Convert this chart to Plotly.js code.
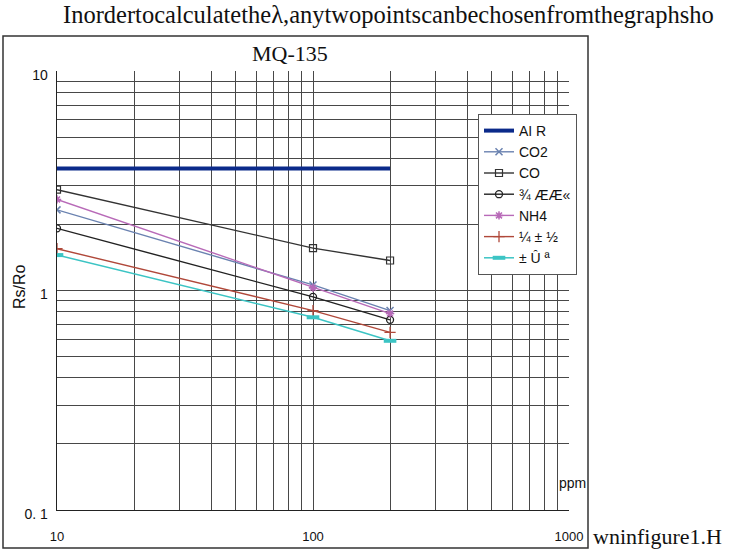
<!DOCTYPE html>
<html>
<head>
<meta charset="utf-8">
<script src="https://cdn.plot.ly/plotly-3.0.1.min.js"></script>
<style>
html,body{margin:0;padding:0;background:#fff;overflow:hidden;}
#chart{width:741px;height:550px;}
</style>
</head>
<body>
<div id="chart"></div>
<script>
// ---- data ----
const ppm = [10, 100, 200];
const airPpm = [10, 200];
const airVals = [3.6, 3.6];
const co2Vals = [2.33, 1.06, 0.81];
const coVals = [2.88, 1.56, 1.37];
const alcVals = [1.92, 0.935, 0.735];
const nh4Vals = [2.60, 1.03, 0.785];
const tolVals = [1.55, 0.81, 0.645];
const aceVals = [1.45, 0.755, 0.59];
const seriesNames = ["AI R", "CO2", "CO", "¾ ÆÆ«", "NH4", "¼ ± ½", "± Û ª"];
const xTickVals = [10, 100, 1000];
const xTickText = ["10", "100", "1000"];
const yTickVals = [0.1, 1, 10];
const yTickText = ["0. 1", "1", "10"];
const titleText = "MQ-135";
const yTitle = "Rs/Ro";
const xUnit = "ppm";
const topText = "Inordertocalculatethe\u03bb,anytwopointscanbechosenfromthegraphsho";
const bottomText = "wninfigure1.H";

// grid positions (1..9 per decade)
const mult = [1,2,3,4,5,6,7,8,9];
function gridVals(decades){
  const v=[];
  decades.forEach(d=>mult.forEach(m=>v.push(+(m*d).toPrecision(3))));
  return v;
}
const xGrid = gridVals([10,100]).concat([1000]);
const yGrid = gridVals([0.1,1]).concat([10]);
function labelFor(vals, tv, tt){
  return vals.map(v=>{const i=tv.findIndex(t=>Math.abs(t-v)<1e-9);return i>=0?tt[i]:"";});
}

const sans = "Liberation Sans, Arial, sans-serif";
const serif = "Liberation Serif, Times New Roman, serif";

const traces = [
  {x: airPpm, y: airVals, name: seriesNames[0], mode: "lines",
   line: {color: "#0b2a8a", width: 4}},
  {x: ppm, y: co2Vals, name: seriesNames[1], mode: "lines+markers",
   line: {color: "#6a82b0", width: 1.4},
   marker: {symbol: "x-thin-open", size: 7, line: {color: "#3a55c8", width: 1.5}}},
  {x: ppm, y: coVals, name: seriesNames[2], mode: "lines+markers",
   line: {color: "#333333", width: 1.4},
   marker: {symbol: "square-open", size: 7, color: "#333", line: {color: "#333", width: 1.2}}},
  {x: ppm, y: alcVals, name: seriesNames[3], mode: "lines+markers",
   line: {color: "#222222", width: 1.4},
   marker: {symbol: "circle-open", size: 7, color: "#222", line: {color: "#222", width: 1.3}}},
  {x: ppm, y: nh4Vals, name: seriesNames[4], mode: "lines+markers",
   line: {color: "#b86ab8", width: 1.4},
   marker: {symbol: "asterisk-open", size: 7, line: {color: "#4a2a5a", width: 1.5}}},
  {x: ppm, y: tolVals, name: seriesNames[5], mode: "lines+markers",
   line: {color: "#b0483a", width: 1.4},
   marker: {symbol: "cross-thin-open", size: 8, line: {color: "#222", width: 1.3}}},
  {x: ppm, y: aceVals, name: seriesNames[6], mode: "lines+markers",
   line: {color: "#3cc4c4", width: 1.5},
   marker: {symbol: "line-ew-open", size: 9, line: {color: "#111", width: 4}}}
];

// plot area in pixels: x 57..569, y 71..510
const L=57, R=741-569, T=71, B=550-510;
const pw=741-L-R, ph=550-T-B;
function px(xp){return (xp-L)/pw;}
function py(yp){return (550-B-yp)/ph;}

const layout = {
  width: 741, height: 550,
  margin: {l: L, r: R, t: T, b: B, pad: 0},
  paper_bgcolor: "#fff", plot_bgcolor: "#fff",
  showlegend: true,
  legend: {x: px(478), y: py(114), xanchor: "left", yanchor: "top",
    bgcolor: "#fff", bordercolor: "#555", borderwidth: 1,
    font: {family: sans, size: 14, color: "#111"},
    itemwidth: 30, tracegroupgap: 0},
  xaxis: {type: "log", range: [1, 3], tickmode: "array",
    tickvals: xGrid, ticktext: labelFor(xGrid, xTickVals, xTickText),
    showgrid: true, gridcolor: "#484848", gridwidth: 1,
    showline: true, linecolor: "#222", linewidth: 1.3, mirror: false,
    ticks: "", ticklabelstandoff: 14,
    tickfont: {family: sans, size: 13, color: "#111"}, zeroline: false},
  yaxis: {type: "log", range: [-1, 1], tickmode: "array",
    tickvals: yGrid, ticktext: labelFor(yGrid, yTickVals, yTickText),
    showgrid: true, gridcolor: "#484848", gridwidth: 1,
    showline: true, linecolor: "#222", linewidth: 1.3,
    ticks: "", ticklabelstandoff: 5, ticklabelshift: 4,
    tickfont: {family: sans, size: 14, color: "#111"}, zeroline: false},
  shapes: [
    {type: "rect", xref: "paper", yref: "paper",
     x0: px(3), x1: px(588), y0: py(548), y1: py(36),
     line: {color: "#333", width: 1.5}, fillcolor: "rgba(0,0,0,0)", layer: "below"}
  ],
  annotations: [
    {text: titleText, xref: "paper", yref: "paper", x: px(290), y: py(53),
     xanchor: "center", yanchor: "middle", showarrow: false,
     font: {family: serif, size: 22, color: "#111"}},
    {text: yTitle, xref: "paper", yref: "paper", x: px(19), y: py(287),
     xanchor: "center", yanchor: "middle", showarrow: false, textangle: -90,
     font: {family: sans, size: 16, color: "#111"}},
    {text: xUnit, xref: "paper", yref: "paper", x: px(588), y: py(483),
     xanchor: "right", yanchor: "middle", showarrow: false,
     font: {family: sans, size: 14, color: "#111"}},
    {text: topText, xref: "paper", yref: "paper", x: px(61), y: py(15),
     xanchor: "left", yanchor: "middle", showarrow: false,
     font: {family: serif, size: 24.5, color: "#111"}},
    {text: bottomText, xref: "paper", yref: "paper", x: px(591), y: py(536),
     xanchor: "left", yanchor: "middle", showarrow: false,
     font: {family: serif, size: 22, color: "#111"}}
  ]
};

Plotly.newPlot("chart", traces, layout, {staticPlot: true, displayModeBar: false});
</script>
</body>
</html>
